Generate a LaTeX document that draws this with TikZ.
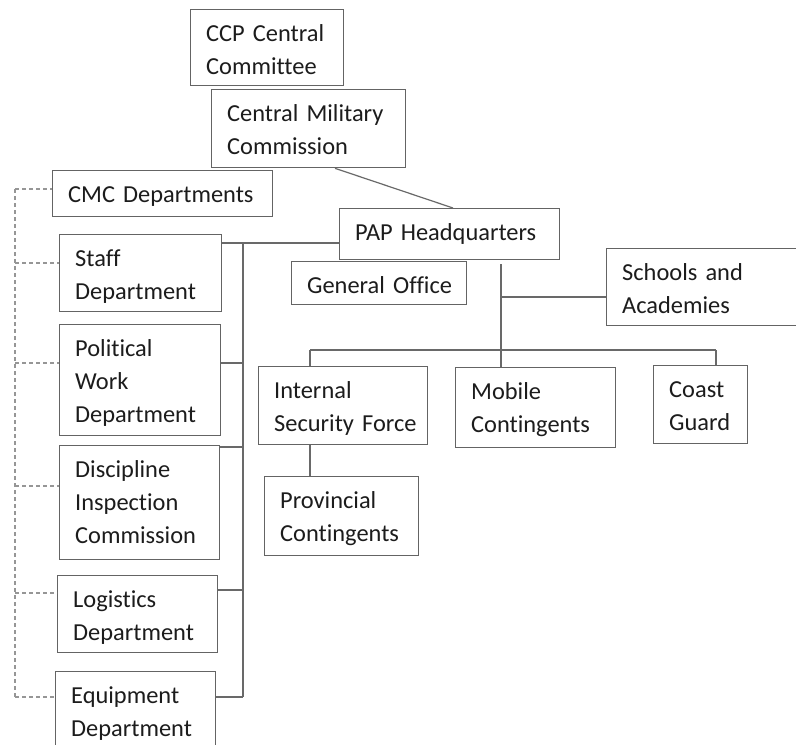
\documentclass[tikz,border=0pt]{standalone}
\usepackage{fontspec}
\setmainfont{Carlito}[Ligatures={NoCommon}]
\definecolor{boxc}{RGB}{100,100,100}
\definecolor{linec}{RGB}{105,105,105}
\definecolor{dashc}{RGB}{150,150,150}
\definecolor{txtc}{RGB}{28,28,28}
\tikzset{
  obox/.style={draw=boxc, line width=1.3pt, inner sep=0pt, anchor=north west, fill=white},
  olbl/.style={anchor=base west, align=left, text width=260pt, inner sep=0pt,
    text=txtc, font=\fontsize{24.4pt}{33pt}\selectfont},
  conn/.style={draw=linec, line width=1.2pt},
  dconn/.style={draw=dashc, line width=1.4pt, dash pattern=on 4pt off 3pt}
}
\newcommand\orgbox[6]{%
  \node[obox, minimum width={#4-#2}, minimum height={#5-#3}] (#1) at (#2,#3) {};
  \node[olbl] (#1-t) at ([shift={(16pt,-32pt)}]#1.north west) {#6};
}
\begin{document}
\begin{tikzpicture}[x=1pt, y=-1pt]
\useasboundingbox[fill=white] (0,0) rectangle (796,745);

% dashed links
\coordinate (dtop) at (15,189);
\coordinate (dbot) at (15,697);

% connector junctions
\coordinate (lb1) at (243,243);
\coordinate (lb2) at (243,697);
\coordinate (pd) at (501,264);
\coordinate (bl) at (310,350);
\coordinate (br) at (716,350);

\orgbox{ccp}{190}{9}{343}{85}{CCP Central\\Committee}
\orgbox{cmc}{211}{89}{405}{167}{Central Military\\Commission}
\orgbox{cmcd}{52}{170}{272}{216}{CMC Departments}
\orgbox{pap}{339}{208}{559}{259}{PAP Headquarters}
\orgbox{gen}{291}{261}{466}{304}{General Office}
\orgbox{sch}{606}{248}{812}{325}{Schools and\\Academies}
\orgbox{isf}{258}{366}{427}{444}{Internal\\Security Force}
\orgbox{mob}{455}{367}{615}{447}{Mobile\\Contingents}
\orgbox{cg}{653}{365}{747}{443}{Coast\\Guard}
\orgbox{prov}{264}{476}{418}{555}{Provincial\\Contingents}
\orgbox{staff}{59}{234}{221}{311}{Staff\\Department}
\orgbox{pol}{59}{324}{220}{435}{Political\\Work\\Department}
\orgbox{dis}{59}{445}{219}{559}{Discipline\\Inspection\\Commission}
\orgbox{log}{57}{575}{217}{652}{Logistics\\Department}
\orgbox{equ}{55}{671}{215}{765}{Equipment\\Department}

% solid connectors
\draw[conn] (335,0 |- cmc.south) -- (453,0 |- pap.north);
\draw[conn] (pap.west |- lb1) -- (staff.east |- lb1);
\draw[conn] (lb1) -- (lb2);
\draw[conn] (pol.east |- 0,363) -- (lb1 |- 0,363);
\draw[conn] (dis.east |- 0,447) -- (lb1 |- 0,447);
\draw[conn] (log.east |- 0,590) -- (lb1 |- 0,590);
\draw[conn] (equ.east |- lb2) -- (lb2);
\draw[conn] (pd) -- (pd |- mob.north);
\draw[conn] (pd |- 0,297) -- (sch.west |- 0,297);
\draw[conn] (bl) -- (br);
\draw[conn] (bl) -- (bl |- isf.north);
\draw[conn] (br) -- (br |- cg.north);
\draw[conn] (bl |- isf.south) -- (bl |- prov.north);

% dashed connectors
\draw[dconn] (dtop) -- (dbot);
\draw[dconn] (dtop) -- (cmcd.west |- dtop);
\draw[dconn] (15,263) -- (staff.west |- 0,263);
\draw[dconn] (15,363) -- (pol.west |- 0,363);
\draw[dconn] (15,486) -- (dis.west |- 0,486);
\draw[dconn] (15,593) -- (log.west |- 0,593);
\draw[dconn] (dbot) -- (equ.west |- dbot);
\end{tikzpicture}
\end{document}
